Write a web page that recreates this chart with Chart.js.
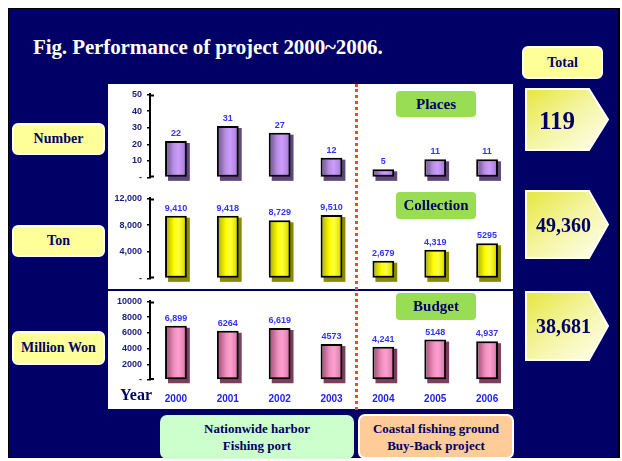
<!DOCTYPE html>
<html>
<head>
<meta charset="utf-8">
<script src="https://cdn.jsdelivr.net/npm/chart.js@4/dist/chart.umd.min.js"></script>
<style>
  html, body { margin: 0; padding: 0; background: #fff; }
  body { width: 622px; height: 461px; position: relative; overflow: hidden; font-family: "Liberation Serif", "Times New Roman", serif; }
  .abs { position: absolute; }
  .frame { left: 8px; top: 8px; width: 609px; height: 448px; background: #000066; border: 1px solid #000; border-right-width: 2px; }
  .title { left: 33px; top: 35px; color: #fff; font-weight: bold; font-size: 21px; letter-spacing: -0.1px; white-space: nowrap; }
  .panel { left: 108px; top: 84px; width: 405px; height: 325px; background: #fff; }
  .divider { left: 108px; top: 289px; width: 405px; height: 2px; background: #000066; }
  .dotted { left: 355px; top: 84px; width: 0; height: 326px; border-left: 3px dotted #ff4422; }
  .box { display: flex; align-items: center; justify-content: center; text-align: center; font-weight: bold; color: #000066; box-sizing: border-box; }
  .ylab { background: #ffff99; border: 2px solid #fff; border-radius: 6px; font-size: 14px; white-space: nowrap; }
  .sect { background: #99dd55; border-radius: 4px; font-size: 15px; }
  .foot { border-radius: 7px; font-size: 13px; line-height: 17px; }
  canvas { position: absolute; }
  .year { left: 120px; top: 386px; font-size: 16px; font-weight: bold; color: #000066; }
</style>
</head>
<body>
<div class="abs frame"></div>
<div class="abs title">Fig. Performance of project 2000~2006.</div>
<div class="abs panel"></div>
<div class="abs divider"></div>

<canvas id="cPlaces" width="405" height="104" style="left:108px;top:84px"></canvas>
<canvas id="cCollection" width="405" height="101" style="left:108px;top:188px"></canvas>
<canvas id="cBudget" width="405" height="118" style="left:108px;top:291px"></canvas>

<div class="abs dotted"></div>

<div class="abs box sect" style="left:396px;top:91px;width:80px;height:26px">Places</div>
<div class="abs box sect" style="left:396px;top:192px;width:80px;height:27px">Collection</div>
<div class="abs box sect" style="left:396px;top:293px;width:80px;height:27px">Budget</div>

<div class="abs box ylab" style="left:12px;top:123px;width:93px;height:32px">Number</div>
<div class="abs box ylab" style="left:12px;top:225px;width:93px;height:32px">Ton</div>
<div class="abs box ylab" style="left:12px;top:331px;width:93px;height:34px">Million Won</div>

<div class="abs year">Year</div>

<div class="abs box ylab" style="left:522px;top:46px;width:81px;height:33px">Total</div>

<svg class="abs" style="left:0;top:0" width="622" height="461">
  <defs>
    <linearGradient id="tot" x1="0" y1="0" x2="1" y2="1">
      <stop offset="0" stop-color="#e6e63c"/>
      <stop offset="0.5" stop-color="#f5f5a6"/>
      <stop offset="1" stop-color="#fffff2"/>
    </linearGradient>
  </defs>
  <g stroke="#fff" stroke-width="2" fill="url(#tot)">
    <polygon points="526,89 589,89 608,119.5 589,150 526,150"/>
    <polygon points="526,191 589,191 608,224.5 589,258 526,258"/>
    <polygon points="526,292 589,292 608,326 589,360 526,360"/>
  </g>
  <g fill="#000066" font-family="Liberation Serif, Times New Roman, serif" font-weight="bold">
    <text x="557" y="129" font-size="25" text-anchor="middle">119</text>
    <text x="536" y="232" font-size="20">49,360</text>
    <text x="536" y="333" font-size="20">38,681</text>
  </g>
</svg>

<div class="abs box foot" style="left:160px;top:415px;width:194px;height:44px;background:#ccffcc">Nationwide harbor<br>Fishing port</div>
<div class="abs box foot" style="left:358px;top:414px;width:156px;height:45px;background:#ffcc99;border:2px solid #fff">Coastal fishing ground<br>Buy-Back project</div>

<script>
// Years on the shared category axis
const years = ['2000', '2001', '2002', '2003', '2004', '2005', '2006'];

// Number of places (projects)
const places = [22, 31, 27, 12, 5, 11, 11];
const placeLabels = ['22', '31', '27', '12', '5', '11', '11'];
const placeTicks = ['-', '10', '20', '30', '40', '50'];

// Collection in tons
const collection = [9410, 9418, 8729, 9510, 2679, 4319, 5295];
const collectionLabels = ['9,410', '9,418', '8,729', '9,510', '2,679', '4,319', '5295'];
const collectionTicks = ['-', '4,000', '8,000', '12,000'];

// Budget in million won
const budget = [6899, 6264, 6619, 4573, 4241, 5148, 4937];
const budgetLabels = ['6,899', '6264', '6,619', '4573', '4,241', '5148', '4,937'];
const budgetTicks = ['-', '2000', '4000', '6000', '8000', '10000'];

const SANS = '"Liberation Sans", Arial, sans-serif';

// Cylinder-like shading, drop shadow, value labels and bracket ends of the axis
const barStyle = {
  id: 'barStyle',
  beforeDatasetsDraw(chart) {
    const o = chart.options.plugins.barStyle;
    const ctx = chart.ctx;
    const meta = chart.getDatasetMeta(0);
    meta.data.forEach(el => {
      const { x, y, base, width } = el.getProps(['x', 'y', 'base', 'width'], true);
      const left = x - width / 2;
      ctx.save();
      ctx.fillStyle = o.shadow;
      ctx.fillRect(left + 3, y + 2, width, base - y + 2);
      ctx.restore();
      const g = ctx.createLinearGradient(left, 0, left + width, 0);
      o.stops.forEach(([p, c]) => g.addColorStop(p, c));
      el.options.backgroundColor = g;
    });
  },
  afterDatasetsDraw(chart) {
    const o = chart.options.plugins.barStyle;
    const ctx = chart.ctx;
    const meta = chart.getDatasetMeta(0);
    ctx.save();
    ctx.font = 'bold 9px ' + SANS;
    ctx.fillStyle = '#3333ff';
    ctx.textAlign = 'center';
    ctx.textBaseline = 'bottom';
    meta.data.forEach((el, i) => {
      const { x, y } = el.getProps(['x', 'y'], true);
      ctx.fillText(o.labels[i], x, y - 3);
    });
    ctx.restore();
  },
  afterDraw(chart) {
    const ctx = chart.ctx;
    const ys = chart.scales.y;
    const x0 = ys.right;
    ctx.save();
    ctx.strokeStyle = '#000';
    ctx.lineWidth = 2;
    ctx.beginPath();
    ctx.moveTo(x0, ys.top + 1); ctx.lineTo(x0 + 4, ys.top + 1);
    ctx.moveTo(x0, ys.bottom - 1); ctx.lineTo(x0 + 4, ys.bottom - 1);
    ctx.stroke();
    ctx.restore();
  }
};

function makeChart(id, values, labels, ticks, max, step, stops, shadow, pad, showYears) {
  return new Chart(document.getElementById(id), {
    type: 'bar',
    data: {
      labels: years,
      datasets: [{
        data: values,
        // per-bar options object, so each bar keeps its own gradient
        backgroundColor: () => stops[2][1],
        borderColor: '#000',
        borderWidth: 2,
        borderSkipped: false,
        categoryPercentage: 1,
        barPercentage: 0.42
      }]
    },
    options: {
      responsive: false,
      animation: false,
      events: [],
      layout: { padding: pad },
      plugins: {
        legend: { display: false },
        tooltip: { enabled: false },
        barStyle: { labels: labels, stops: stops, shadow: shadow }
      },
      scales: {
        x: {
          display: showYears,
          grid: { display: false },
          border: { display: false },
          ticks: { color: '#2222ee', font: { family: SANS, size: 10, weight: 'bold' }, padding: 5, maxRotation: 0 },
          afterFit(s) { if (s.options.display) s.height = 29; }
        },
        y: {
          min: 0,
          max: max,
          grid: { display: true, drawOnChartArea: false, tickLength: 3, color: '#000', lineWidth: 1.5 },
          border: { display: true, color: '#000', width: 2 },
          ticks: {
            stepSize: step,
            padding: 5,
            color: '#1a1a80',
            font: { family: SANS, size: 9, weight: 'bold' },
            autoSkip: false,
            callback: (v, i) => ticks[i]
          },
          afterFit(s) { s.width = 42; }
        }
      }
    },
    plugins: [barStyle]
  });
}

const purple = [[0, '#76569a'], [0.2, '#8c6cb0'], [0.38, '#b68ee0'], [0.6, '#cc9cff'], [0.82, '#b48ae2'], [1, '#9672bc']];
const yellow = [[0, '#9a9a00'], [0.18, '#cccc00'], [0.42, '#ffff00'], [0.62, '#ffff40'], [0.85, '#e6e600'], [1, '#b8b800']];
const pink = [[0, '#9c4c74'], [0.2, '#c06890'], [0.42, '#f090c0'], [0.62, '#ff9fd0'], [0.84, '#e486b6'], [1, '#bc6690']];

makeChart('cPlaces', places, placeLabels, placeTicks, 50, 10, purple, '#5e4878',
  { top: 6, bottom: 7, left: 0, right: 0 }, false);
makeChart('cCollection', collection, collectionLabels, collectionTicks, 12000, 4000, yellow, '#8a8a00',
  { top: 7, bottom: 8, left: 0, right: 0 }, false);
makeChart('cBudget', budget, budgetLabels, budgetTicks, 10000, 2000, pink, '#7a3e5e',
  { top: 9, bottom: 0, left: 0, right: 0 }, true);
</script>
</body>
</html>
